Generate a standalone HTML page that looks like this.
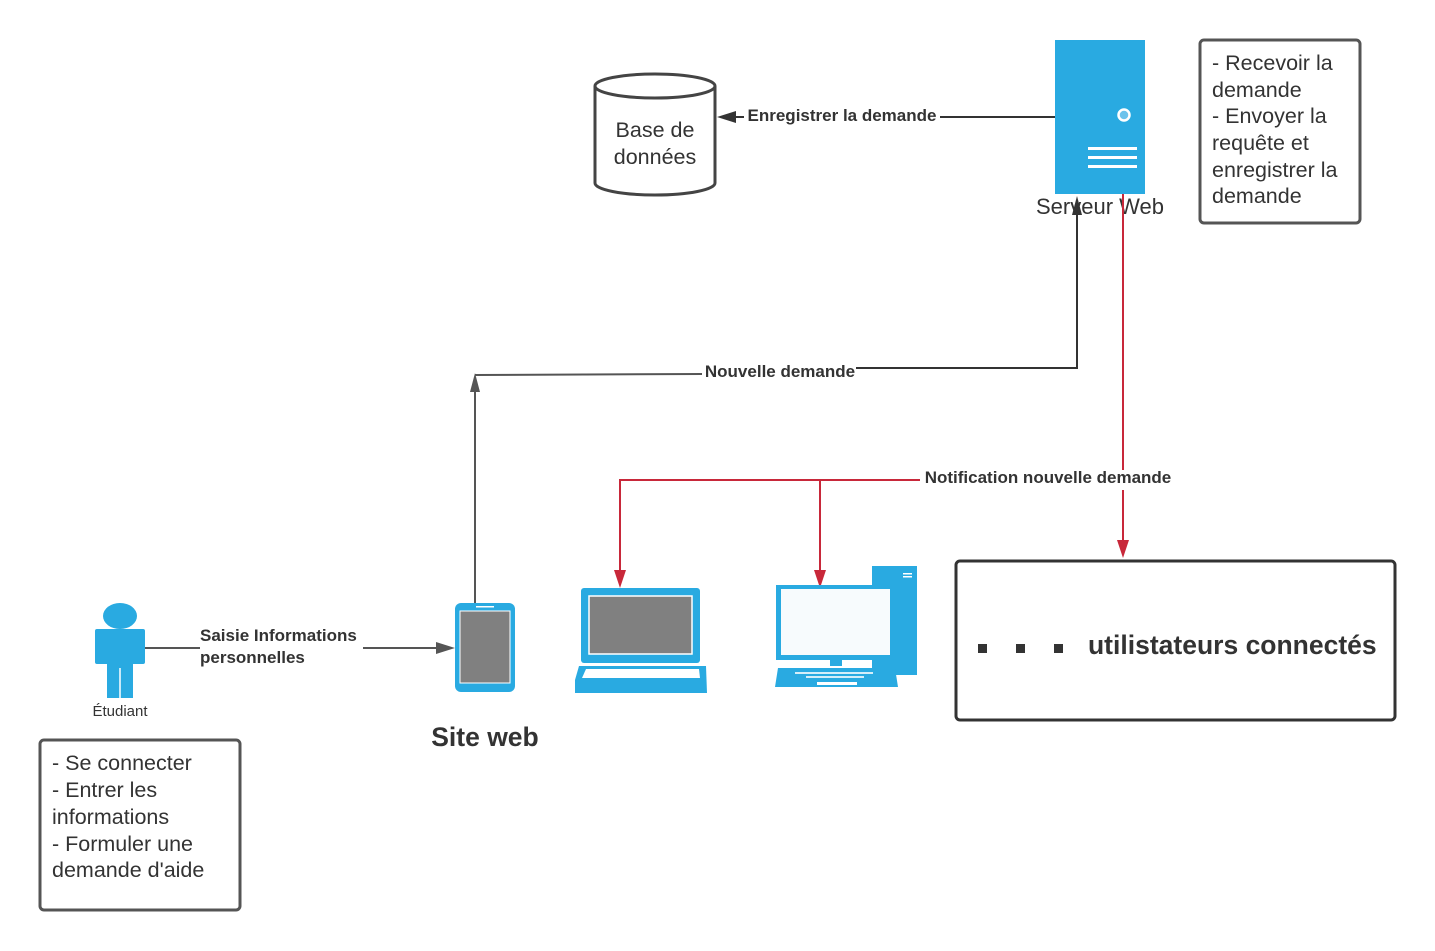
<!DOCTYPE html>
<html><head><meta charset="utf-8"><style>
html,body{margin:0;padding:0;background:#fff;}
svg{display:block;font-family:"Liberation Sans",sans-serif;}
</style></head><body>
<svg width="1435" height="951" viewBox="0 0 1435 951" xmlns="http://www.w3.org/2000/svg">
<rect width="1435" height="951" fill="#fff"/>
<!-- cylinder -->
<path d="M595,86 L595,183 A60,12 0 0 0 715,183 L715,86" fill="#fff" stroke="#444" stroke-width="3"/>
<ellipse cx="655" cy="86" rx="60" ry="12" fill="#fff" stroke="#444" stroke-width="3"/>
<text x="655" y="137" font-size="21.5" text-anchor="middle" fill="#333">Base de</text>
<text x="655" y="164" font-size="21.5" text-anchor="middle" fill="#333">données</text>
<!-- enregistrer arrow -->
<line x1="1055" y1="117" x2="940" y2="117" stroke="#333" stroke-width="2"/>
<line x1="744" y1="117" x2="730" y2="117" stroke="#333" stroke-width="2"/>
<polygon points="717,117 736,111 736,123" fill="#333"/>
<text x="842" y="121" font-size="17" font-weight="bold" text-anchor="middle" fill="#333">Enregistrer la demande</text>
<!-- server -->
<rect x="1055" y="40" width="90" height="154" fill="#29aae1"/>
<circle cx="1124" cy="115" r="5.5" fill="#6cc3ec" stroke="#fff" stroke-width="2.5"/>
<rect x="1088" y="147" width="49" height="3" fill="#fff"/>
<rect x="1088" y="156" width="49" height="3" fill="#fff"/>
<rect x="1088" y="165" width="49" height="3" fill="#fff"/>
<text x="1100" y="214" font-size="22" text-anchor="middle" fill="#333">Serveur Web</text>
<!-- right box -->
<rect x="1200" y="40" width="160" height="183" rx="4" fill="none" stroke="#555" stroke-width="3"/>
<g font-size="21.5" fill="#333">
<text x="1212" y="70">- Recevoir la</text>
<text x="1212" y="97">demande</text>
<text x="1212" y="123">- Envoyer la</text>
<text x="1212" y="150">requête et</text>
<text x="1212" y="177">enregistrer la</text>
<text x="1212" y="203">demande</text>
</g>
<!-- nouvelle demande connector -->
<line x1="475" y1="603" x2="475" y2="385" stroke="#555" stroke-width="2"/>
<polygon points="475,373 470,392 480,392" fill="#555"/>
<polyline points="475,375 702,374" fill="none" stroke="#555" stroke-width="2"/>
<polyline points="856,368 1077,368 1077,210" fill="none" stroke="#333" stroke-width="2"/>
<polygon points="1077,196 1072,215 1082,215" fill="#333"/>
<text x="780" y="377" font-size="17" font-weight="bold" text-anchor="middle" fill="#333">Nouvelle demande</text>
<!-- red connectors -->
<line x1="1123" y1="194" x2="1123" y2="470" stroke="#c8283a" stroke-width="2"/>
<line x1="1123" y1="490" x2="1123" y2="545" stroke="#c8283a" stroke-width="2"/>
<polygon points="1123,558 1117,540 1129,540" fill="#c8283a"/>
<polyline points="920,480 620,480 620,575" fill="none" stroke="#c8283a" stroke-width="2"/>
<polygon points="620,588 614,570 626,570" fill="#c8283a"/>
<line x1="820" y1="480" x2="820" y2="575" stroke="#c8283a" stroke-width="2"/>
<polygon points="820,588 814,570 826,570" fill="#c8283a"/>
<text x="1048" y="483" font-size="17" font-weight="bold" text-anchor="middle" fill="#333">Notification nouvelle demande</text>
<!-- big box -->
<rect x="956" y="561" width="439" height="159" rx="4" fill="none" stroke="#333" stroke-width="3"/>
<rect x="978" y="644" width="9" height="9" fill="#333"/>
<rect x="1016" y="644" width="9" height="9" fill="#333"/>
<rect x="1054" y="644" width="9" height="9" fill="#333"/>
<text x="1088" y="654" font-size="26.5" font-weight="bold" fill="#333">utilistateurs connectés</text>
<!-- person -->
<ellipse cx="120" cy="616" rx="17" ry="13" fill="#29aae1"/>
<rect x="95" y="629" width="50" height="35" rx="2" fill="#29aae1"/>
<rect x="107" y="660" width="26" height="38" fill="#29aae1"/>
<line x1="120" y1="668" x2="120" y2="698" stroke="#fff" stroke-width="1.5"/>
<text x="120" y="716" font-size="15" text-anchor="middle" fill="#333">Étudiant</text>
<line x1="145" y1="648" x2="200" y2="648" stroke="#555" stroke-width="2"/>
<line x1="363" y1="648" x2="442" y2="648" stroke="#555" stroke-width="2"/>
<polygon points="455,648 436,642 436,654" fill="#555"/>
<text x="200" y="641" font-size="17" font-weight="bold" fill="#333">Saisie Informations</text>
<text x="200" y="663" font-size="17" font-weight="bold" fill="#333">personnelles</text>
<!-- tablet -->
<rect x="455" y="603" width="60" height="89" rx="6" fill="#29aae1"/>
<rect x="460" y="611" width="50" height="72" fill="#808080" stroke="#fff" stroke-width="1"/>
<rect x="476" y="606" width="18" height="1.5" fill="#fff"/>
<text x="485" y="746" font-size="26.5" font-weight="bold" text-anchor="middle" fill="#333">Site web</text>
<!-- laptop -->
<rect x="581" y="588" width="119" height="75" rx="3" fill="#29aae1"/>
<rect x="589" y="596" width="103" height="58" fill="#808080" stroke="#fff" stroke-width="1.5"/>
<polygon points="579,666 706,666 707,693 575,693 575,680" fill="#29aae1"/>
<polygon points="586,669 699,669 700,678 582,678" fill="#fff"/>
<!-- desktop -->
<rect x="872" y="566" width="45" height="109" fill="#29aae1"/>
<rect x="903" y="573" width="9" height="1.5" fill="#fff"/>
<rect x="903" y="576" width="9" height="1.5" fill="#fff"/>
<rect x="776" y="585" width="120" height="75" fill="#29aae1"/>
<rect x="781" y="589" width="109" height="66" fill="#f7fbfd"/>
<rect x="830" y="660" width="12" height="6" fill="#29aae1"/>
<polygon points="778,668 895,668 898,687 775,687" fill="#29aae1"/>
<rect x="817" y="682" width="40" height="3" fill="#fff"/>
<rect x="795" y="672" width="78" height="2" fill="#fff" opacity="0.8"/>
<rect x="806" y="676" width="58" height="2" fill="#fff" opacity="0.8"/>
<!-- left box -->
<rect x="40" y="740" width="200" height="170" rx="4" fill="none" stroke="#555" stroke-width="3"/>
<g font-size="21.5" fill="#333">
<text x="52" y="770">- Se connecter</text>
<text x="52" y="797">- Entrer les</text>
<text x="52" y="824">informations</text>
<text x="52" y="851">- Formuler une</text>
<text x="52" y="877">demande d'aide</text>
</g>
</svg>
</body></html>
